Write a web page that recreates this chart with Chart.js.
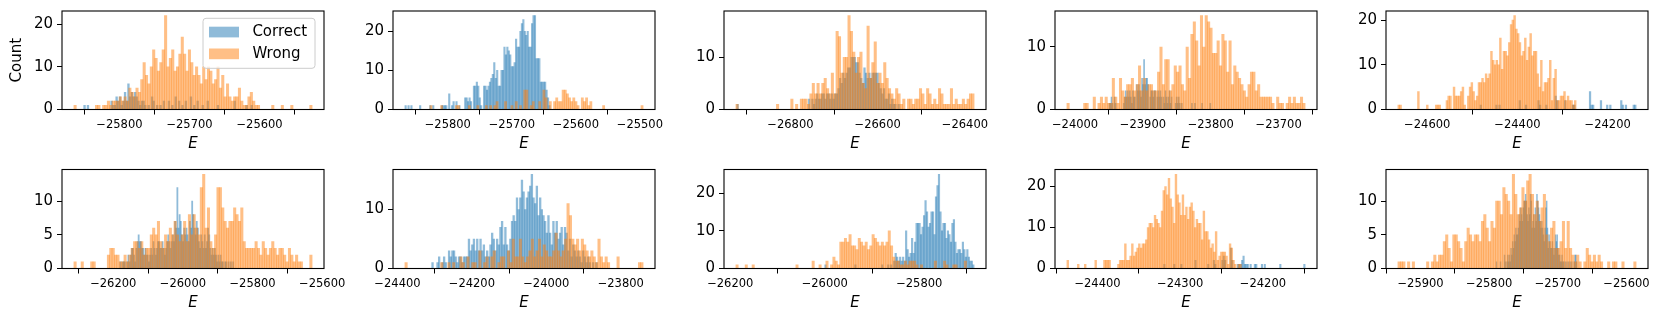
<!DOCTYPE html>
<html><head><meta charset="utf-8">
<script src="https://cdn.jsdelivr.net/npm/chart.js@4.4.1/dist/chart.umd.min.js"></script>
<style>
html,body{margin:0;padding:0;background:#fff;overflow:hidden;}
#wrap{position:relative;width:1660px;height:324px;overflow:hidden;background:#fff;}
canvas{position:absolute;}
</style></head><body><div id="wrap"></div>
<script>
const CORRECT_LABEL = 'Correct';
const WRONG_LABEL = 'Wrong';
const X_TITLE = 'E';
const Y_TITLE = 'Count';

// Each series: [lo, hi] bin range (100 equal bins) and counts per bin
const P1_WRONG_RANGE = [-25865, -25525];
const P1_WRONG = [1,0,0,0,0,0,0,0,0,1, 1,0,1,1,2,1,2,2,2,3, 2,3,2,5,4,3,5,4,7,11, 8,6,10,14,12,9,11,14,22,10, 12,14,9,10,13,17,13,9,14,11, 8,10,8,6,10,7,10,9,6,7, 10,5,8,3,6,3,2,3,3,5, 2,1,1,3,4,2,1,1,0,0, 0,0,0,1,0,0,0,1,0,0, 0,1,0,0,0,0,0,0,0,1];
const P1_CORRECT_RANGE = [-25851, -25610];
const P1_CORRECT = [1,0,1,0,0,0,0,0,0,0, 0,0,0,0,0,0,2,1,1,3, 2,3,1,2,4,2,6,3,4,3, 4,3,2,1,2,2,1,0,1,0, 3,2,0,1,0,1,0,2,0,0, 2,0,1,0,3,0,2,0,1,0, 2,0,0,3,0,1,0,2,0,0, 1,0,0,2,0,0,0,0,0,1, 0,0,0,0,0,0,0,0,0,2, 0,0,0,0,0,0,1,0,0,1];
const P1_XTICKS = [-25800, -25700, -25600];
const P1_YTICKS = [0, 10, 20];

const P2_WRONG_RANGE = [-25828, -25495];
const P2_WRONG = [1,0,0,0,0,1,0,0,0,0, 0,0,1,1,0,0,0,0,1,0, 0,0,1,0,0,0,1,0,1,0, 1,2,0,0,0,2,0,0,1,0, 2,0,1,0,5,5,0,1,2,0, 0,2,0,5,3,0,2,0,2,3, 2,2,5,5,4,3,2,3,2,1, 0,3,2,3,1,2,0,0,0,0, 0,1,0,0,0,0,0,0,0,0, 0,0,0,0,0,0,0,0,0,1];
const P2_CORRECT_RANGE = [-25867, -25640];
const P2_CORRECT = [1,0,1,0,1,0,0,0,0,0, 1,0,0,0,0,0,0,1,0,1, 0,0,0,0,0,1,1,1,1,0, 4,0,1,2,0,2,0,1,0,0, 0,3,3,2,3,2,0,6,6,7, 6,3,1,0,6,6,5,6,7,8, 9,12,8,10,6,6,10,10,16,14, 16,15,14,11,11,12,18,16,16,20, 22,23,20,19,20,16,16,22,24,24, 13,13,13,7,7,7,7,5,3,1];
const P2_XTICKS = [-25800, -25700, -25600, -25500];
const P2_YTICKS = [0, 10, 20];

const P3_WRONG_RANGE = [-26925, -26379];
const P3_WRONG = [1,0,0,0,0,0,0,0,0,0, 0,0,0,0,0,0,0,1,0,0, 0,0,0,2,0,1,0,2,2,2, 1,3,5,3,5,3,5,6,4,3, 7,3,15,14,7,10,10,18,15,11, 7,10,11,5,4,16,6,9,13,5, 7,5,9,6,4,3,2,4,3,1, 2,0,2,2,1,2,2,4,3,1, 4,3,1,2,1,4,3,1,1,1, 4,1,2,1,1,2,1,2,3,3];
const P3_CORRECT_RANGE = [-26923, -26550];
const P3_CORRECT = [1,0,0,0,0,0,0,0,0,0, 0,0,0,0,0,0,0,0,0,0, 0,0,0,0,0,0,0,0,0,0, 0,0,0,0,0,0,0,0,0,0, 0,0,0,0,2,0,2,1,2,3, 2,2,3,3,2,3,3,2,3,2, 3,3,4,6,5,7,6,7,8,8, 10,10,10,9,9,7,6,5,8,7, 6,7,6,7,7,7,7,5,4,3, 4,2,2,3,1,2,1,1,0,1];
const P3_XTICKS = [-26800, -26600, -26400];
const P3_YTICKS = [0, 10];

const P4_WRONG_RANGE = [-24012, -23661];
const P4_WRONG = [1,0,0,0,0,0,0,1,1,0, 0,2,0,1,2,1,2,1,1,5, 2,1,5,3,2,4,4,5,3,4, 7,3,5,3,4,4,3,3,6,10, 4,8,8,3,4,7,6,7,4,3, 10,5,12,14,11,7,15,10,15,14, 13,9,9,11,7,12,11,6,11,4, 7,6,5,4,3,2,4,6,6,3, 4,2,2,2,2,2,1,0,2,1, 1,0,1,2,1,2,1,1,2,1];
const P4_CORRECT_RANGE = [-23950, -23800];
const P4_CORRECT = [1,1,2,1,0,2,1,0,0,0, 0,0,0,0,1,2,3,2,3,2, 3,2,1,3,2,2,0,4,3,4, 3,2,5,4,8,4,5,5,4,0, 2,3,3,2,3,3,0,2,3,2, 3,2,0,2,1,3,2,1,2,3, 1,2,0,0,0,1,2,1,2,1, 0,1,0,0,0,0,0,0,0,0, 0,1,0,0,1,0,0,0,0,0, 0,1,0,0,0,0,0,0,0,1];
const P4_XTICKS = [-24000, -23900, -23800, -23700];
const P4_YTICKS = [0, 10];

const P5_WRONG_RANGE = [-24665, -24270];
const P5_WRONG = [1,1,0,0,0,0,0,0,0,0, 0,4,0,0,0,0,1,0,0,0, 0,1,1,1,0,0,0,2,3,3, 0,5,3,3,3,4,5,1,0,3, 5,6,4,2,3,6,6,7,6,8, 7,8,13,11,10,11,10,16,9,13, 13,12,15,19,20,21,18,17,15,12, 13,16,11,14,17,12,13,13,8,5, 11,4,6,6,7,11,2,7,9,2, 2,3,3,4,2,3,2,2,1,2];
const P5_CORRECT_RANGE = [-24483, -24137];
const P5_CORRECT = [1,0,0,0,0,0,0,0,0,0, 1,0,1,0,0,0,0,0,0,0, 0,0,0,0,0,2,0,0,0,1, 0,0,0,0,0,0,0,2,1,0, 0,0,1,0,0,0,0,0,3,2, 0,0,0,0,2,0,0,0,0,1, 1,0,0,0,0,0,0,0,0,0, 4,1,1,0,0,0,0,2,0,0, 0,1,0,1,0,0,0,0,0,0, 2,1,0,1,0,0,0,0,1,1];
const P5_XTICKS = [-24600, -24400, -24200];
const P5_YTICKS = [0, 10, 20];

const P6_WRONG_RANGE = [-26313, -25629];
const P6_WRONG = [1,0,0,1,0,0,0,1,1,0, 0,0,0,0,2,3,3,2,2,1, 1,2,1,2,3,4,4,3,4,2, 3,3,5,6,5,7,4,3,5,4, 6,5,7,5,4,5,7,4,8,5, 8,6,5,12,14,6,9,4,3,5, 12,12,9,7,6,7,7,9,8,7, 9,4,3,3,3,3,4,3,2,4, 3,2,3,4,3,2,3,3,2,1, 3,2,1,2,1,1,0,0,0,2];
const P6_CORRECT_RANGE = [-26181, -25854];
const P6_CORRECT = [1,0,1,1,1,0,1,2,1,2, 3,3,2,1,3,4,5,4,4,3, 3,2,3,2,2,1,2,3,2,4, 3,2,3,4,4,3,3,4,3,2, 3,4,5,4,3,4,5,4,7,6, 12,6,8,7,5,4,6,5,6,5, 4,7,6,10,8,6,5,7,6,4, 3,5,4,3,5,3,4,6,5,3, 2,3,2,3,2,1,2,1,2,1, 1,0,1,1,0,1,0,1,0,1];
const P6_XTICKS = [-26200, -26000, -25800, -25600];
const P6_YTICKS = [0, 5, 10];

const P7_WRONG_RANGE = [-24380, -23740];
const P7_WRONG = [1,0,0,0,0,0,0,0,0,0, 0,0,0,0,0,1,0,0,1,0, 1,0,0,2,1,0,2,0,1,1, 0,3,0,1,2,0,2,3,0,1, 2,2,0,3,1,5,2,2,5,2, 1,2,3,5,2,3,5,2,4,3, 2,2,3,6,3,2,3,5,11,9, 5,4,5,3,5,4,3,2,3,2, 1,5,2,1,2,1,0,0,0,2, 0,0,0,0,0,0,0,0,1,1];
const P7_CORRECT_RANGE = [-24308, -23863];
const P7_CORRECT = [1,0,0,1,2,0,1,2,1,0, 3,2,3,3,2,1,2,2,1,2, 2,2,5,3,4,5,3,5,3,5, 3,4,2,3,2,4,6,5,3,5, 4,7,8,4,7,4,3,5,8,9, 8,12,10,12,15,13,10,12,13,14, 16,12,11,14,9,12,10,9,8,6, 9,6,4,8,6,8,5,6,7,4, 7,6,3,5,2,4,3,2,3,2, 1,3,2,1,2,1,0,1,0,1];
const P7_XTICKS = [-24400, -24200, -24000, -23800];
const P7_YTICKS = [0, 10];

const P8_WRONG_RANGE = [-26188, -25700];
const P8_WRONG = [1,0,0,0,1,0,0,1,0,0, 0,0,0,0,0,0,0,0,0,0, 0,0,0,0,0,0,1,0,0,0, 0,0,0,2,0,0,1,0,0,2, 0,1,3,2,1,7,7,8,7,9, 6,6,5,8,7,6,7,5,6,9, 8,7,6,7,6,7,10,6,3,2, 2,1,1,2,1,2,2,2,1,0, 1,0,0,0,0,0,2,0,0,0, 2,1,0,0,1,1,0,0,0,2];
const P8_CORRECT_RANGE = [-26000, -25684];
const P8_CORRECT = [1,0,0,0,0,0,0,0,0,0, 0,0,0,0,0,0,0,0,0,0, 1,0,0,0,0,0,0,0,0,0, 0,0,0,0,0,0,0,0,1,0, 0,0,1,0,1,0,2,4,3,2, 3,2,3,2,10,5,3,4,8,4, 7,12,12,12,9,11,14,18,15,11, 12,15,15,9,19,22,25,15,10,12, 12,8,10,9,7,12,13,7,4,5, 5,4,7,5,3,5,3,2,2,1];
const P8_XTICKS = [-26200, -26000, -25800];
const P8_YTICKS = [0, 10, 20];

const P9_WRONG_RANGE = [-24437, -24226];
const P9_WRONG = [2,0,0,0,0,0,1,0,0,0, 1,0,0,0,0,0,2,0,0,0, 0,2,2,2,2,0,0,0,0,1, 2,2,2,6,2,2,3,6,3,4, 5,6,5,6,6,7,10,11,11,10, 13,12,11,10,14,19,20,18,22,17, 15,11,23,18,16,13,18,13,15,12, 15,16,14,10,12,11,11,7,14,9, 9,7,5,6,4,9,2,3,4,4, 4,3,1,6,5,2,1,0,1,1];
const P9_CORRECT_RANGE = [-24320, -24149];
const P9_CORRECT = [1,0,0,0,0,0,0,1,0,0, 0,0,1,0,0,0,0,0,0,0, 0,0,2,0,0,0,0,0,0,0, 0,1,0,0,0,2,1,0,0,0, 0,2,3,2,0,0,0,5,2,0, 0,0,1,1,1,2,3,1,1,1, 0,1,0,0,1,1,0,0,0,1, 0,1,0,0,0,0,0,0,0,0, 0,0,1,0,0,0,0,0,0,0, 0,0,0,0,0,0,0,0,0,1];
const P9_XTICKS = [-24400, -24300, -24200];
const P9_YTICKS = [0, 10, 20];

const P10_WRONG_RANGE = [-25933, -25586];
const P10_WRONG = [1,1,1,0,1,0,1,0,0,0, 0,0,1,0,1,2,1,2,2,4, 5,3,1,5,5,4,3,1,4,6, 5,4,5,5,4,7,8,6,4,7, 6,10,10,8,12,11,10,8,14,11, 8,9,12,10,13,14,11,8,10,7, 9,11,5,4,6,7,3,3,4,7, 3,7,3,2,1,2,1,0,1,3, 2,1,2,1,2,1,0,0,1,0, 1,1,0,0,1,0,0,0,0,1];
const P10_CORRECT_RANGE = [-25790, -25672];
const P10_CORRECT = [1,0,0,0,0,1,0,0,0,0, 2,1,0,1,2,1,2,1,3,2, 4,3,5,4,6,5,5,6,8,7, 9,8,7,9,10,10,11,10,8,7, 9,8,11,10,6,7,8,6,9,7, 11,10,9,8,7,6,7,6,5,4, 6,9,10,6,3,5,4,3,3,4, 3,2,3,5,4,5,3,2,2,1, 1,2,1,1,0,1,0,1,0,1, 0,1,0,1,0,0,1,2,2,1];
const P10_XTICKS = [-25900, -25800, -25700, -25600];
const P10_YTICKS = [0, 5, 10];

const PANELS = [
  {wrong:P1_WRONG, wrongRange:P1_WRONG_RANGE, correct:P1_CORRECT, correctRange:P1_CORRECT_RANGE, xticks:P1_XTICKS, yticks:P1_YTICKS},
  {wrong:P2_WRONG, wrongRange:P2_WRONG_RANGE, correct:P2_CORRECT, correctRange:P2_CORRECT_RANGE, xticks:P2_XTICKS, yticks:P2_YTICKS},
  {wrong:P3_WRONG, wrongRange:P3_WRONG_RANGE, correct:P3_CORRECT, correctRange:P3_CORRECT_RANGE, xticks:P3_XTICKS, yticks:P3_YTICKS},
  {wrong:P4_WRONG, wrongRange:P4_WRONG_RANGE, correct:P4_CORRECT, correctRange:P4_CORRECT_RANGE, xticks:P4_XTICKS, yticks:P4_YTICKS},
  {wrong:P5_WRONG, wrongRange:P5_WRONG_RANGE, correct:P5_CORRECT, correctRange:P5_CORRECT_RANGE, xticks:P5_XTICKS, yticks:P5_YTICKS},
  {wrong:P6_WRONG, wrongRange:P6_WRONG_RANGE, correct:P6_CORRECT, correctRange:P6_CORRECT_RANGE, xticks:P6_XTICKS, yticks:P6_YTICKS},
  {wrong:P7_WRONG, wrongRange:P7_WRONG_RANGE, correct:P7_CORRECT, correctRange:P7_CORRECT_RANGE, xticks:P7_XTICKS, yticks:P7_YTICKS},
  {wrong:P8_WRONG, wrongRange:P8_WRONG_RANGE, correct:P8_CORRECT, correctRange:P8_CORRECT_RANGE, xticks:P8_XTICKS, yticks:P8_YTICKS},
  {wrong:P9_WRONG, wrongRange:P9_WRONG_RANGE, correct:P9_CORRECT, correctRange:P9_CORRECT_RANGE, xticks:P9_XTICKS, yticks:P9_YTICKS},
  {wrong:P10_WRONG, wrongRange:P10_WRONG_RANGE, correct:P10_CORRECT, correctRange:P10_CORRECT_RANGE, xticks:P10_XTICKS, yticks:P10_YTICKS}
];

const FONT = "'DejaVu Sans', sans-serif";
const BLUE = 'rgba(31,119,180,0.5)';
const ORANGE = 'rgba(255,127,14,0.5)';

function fmt(v) { return v < 0 ? '\u2212' + Math.abs(v) : String(v); }
function toBars(range, counts) {
  const w = (range[1] - range[0]) / counts.length;
  return counts.map((c, i) => ({x: range[0] + w * (i + 0.5), y: c}));
}

const framePlugin = {
  id: 'frame',
  afterDatasetsDraw(chart) {
    const a = chart.chartArea, ctx = chart.ctx;
    ctx.save();
    ctx.strokeStyle = '#000';
    ctx.lineWidth = 1.1;
    ctx.strokeRect(a.left, a.top, a.right - a.left, a.bottom - a.top);
    ctx.restore();
  }
};

const legendPlugin = {
  id: 'mplLegend',
  afterDraw(chart) {
    const a = chart.chartArea, ctx = chart.ctx;
    const bw = 112, bh = 50;
    const bx = a.right - 9 - bw, by = a.top + 7.3;
    ctx.save();
    ctx.beginPath();
    ctx.roundRect(bx, by, bw, bh, 3);
    ctx.fillStyle = 'rgba(255,255,255,0.8)';
    ctx.fill();
    ctx.strokeStyle = '#cccccc';
    ctx.lineWidth = 1;
    ctx.stroke();
    chart.data.datasets.forEach((ds, k) => {
      const cy = by + 13.7 + k * 21.8;
      ctx.fillStyle = ds.backgroundColor;
      ctx.fillRect(bx + 6, cy - 5.3, 30, 10.7);
      ctx.fillStyle = '#000';
      ctx.font = '15px ' + FONT;
      ctx.textBaseline = 'middle';
      ctx.textAlign = 'left';
      ctx.fillText(ds.label, bx + 49.4, cy + 0.5);
    });
    ctx.restore();
  }
};

const wrap = document.getElementById('wrap');
PANELS.forEach((p, i) => {
  const row = Math.floor(i / 5), col = i % 5;
  const W = 345, H = row === 0 ? 162 : 163;
  const cv = document.createElement('canvas');
  cv.width = W; cv.height = H;
  cv.style.left = (331 * col) + 'px';
  cv.style.top = (row === 0 ? 0 : 158) + 'px';
  cv.style.width = W + 'px'; cv.style.height = H + 'px';
  wrap.appendChild(cv);

  const lo = Math.min(p.wrongRange[0], p.correctRange[0]);
  const hi = Math.max(p.wrongRange[1], p.correctRange[1]);
  const pad = 0.05 * (hi - lo);
  const xmin = lo - pad, xmax = hi + pad;
  const ymax = 1.05 * Math.max(...p.wrong, ...p.correct);
  const gridOpts = {display: true, drawOnChartArea: false, drawTicks: true, tickLength: 5, tickColor: '#000', tickWidth: 1, color: '#000'};

  new Chart(cv, {
    type: 'bar',
    data: {
      datasets: [
        {label: CORRECT_LABEL, data: toBars(p.correctRange, p.correct), xAxisID: 'xc', backgroundColor: BLUE, order: 2},
        {label: WRONG_LABEL, data: toBars(p.wrongRange, p.wrong), xAxisID: 'x', backgroundColor: ORANGE, order: 1}
      ]
    },
    options: {
      responsive: false, animation: false, devicePixelRatio: 1,
      layout: {padding: {left: 0, right: W - 62 - 262, top: row === 0 ? 11 : 11.5, bottom: 0}},
      datasets: {bar: {barPercentage: 1, categoryPercentage: 1, grouped: false, borderWidth: 0}},
      plugins: {legend: {display: false}, tooltip: {enabled: false}},
      scales: {
        x: {
          type: 'linear', position: 'bottom', min: xmin, max: xmax, offset: false,
          grid: gridOpts, border: {display: false},
          ticks: {font: {family: FONT, size: 11.5}, color: '#000', padding: 4, maxRotation: 0, minRotation: 0, autoSkip: false, callback: fmt},
          title: {display: true, text: X_TITLE, font: {family: FONT, size: 15, style: 'italic'}, color: '#000', padding: {top: 0, bottom: 8.5}},
          afterBuildTicks(ax) { ax.ticks = p.xticks.map(v => ({value: v})); },
          afterFit(ax) { ax.height = 52.5; ax.paddingLeft = 0; ax.paddingRight = 0; }
        },
        xc: {
          type: 'linear', position: 'bottom', display: false, min: xmin, max: xmax, offset: false,
          afterBuildTicks(ax) { ax.ticks = p.xticks.map(v => ({value: v})); },
          afterFit(ax) { ax.height = 0; ax.paddingLeft = 0; ax.paddingRight = 0; }
        },
        y: {
          type: 'linear', position: 'left', min: 0, max: ymax,
          grid: gridOpts, border: {display: false},
          ticks: {font: {family: FONT, size: 15}, color: '#000', padding: 4, autoSkip: false, callback: fmt},
          title: {display: i === 0, text: Y_TITLE, font: {family: FONT, size: 15}, color: '#000', padding: {top: 8.3, bottom: 0}},
          afterBuildTicks(ax) { ax.ticks = p.yticks.map(v => ({value: v})); },
          afterFit(ax) { ax.width = 62; ax.paddingTop = 0; ax.paddingBottom = 0; }
        }
      }
    },
    plugins: i === 0 ? [framePlugin, legendPlugin] : [framePlugin]
  });
});
</script></body></html>
